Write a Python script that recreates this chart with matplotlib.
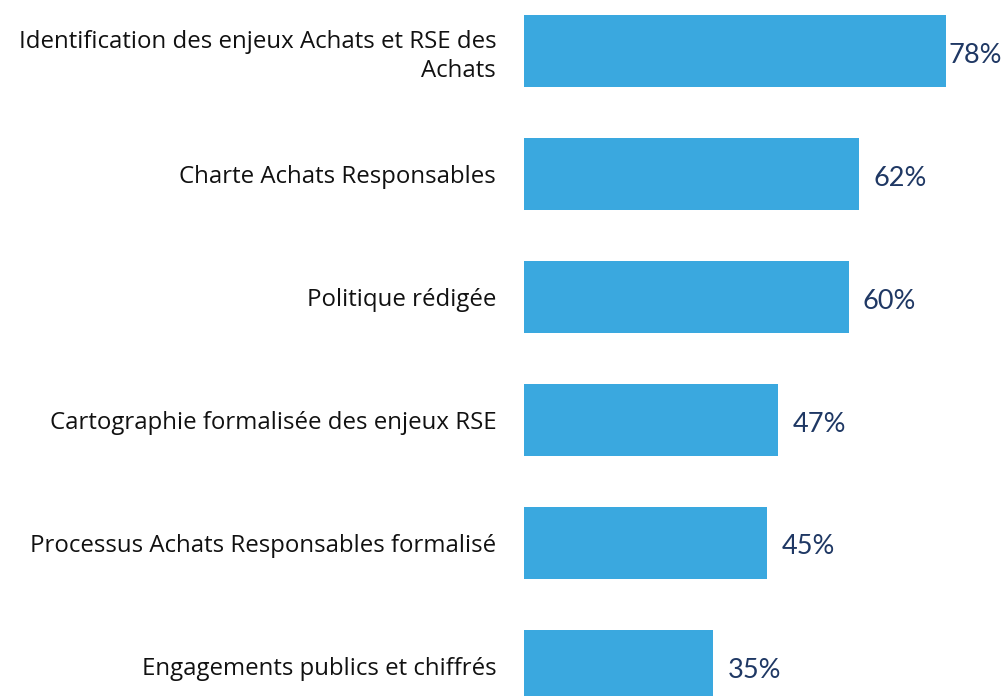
import matplotlib
matplotlib.use("Agg")
import matplotlib.pyplot as plt
import numpy as np

# --- Data ---
categories = [
    "Identification des enjeux Achats et RSE des\nAchats",
    "Charte Achats Responsables",
    "Politique rédigée",
    "Cartographie formalisée des enjeux RSE",
    "Processus Achats Responsables formalisé",
    "Engagements publics et chiffrés",
]
values = [78, 62, 60, 47, 45, 35]

BAR_COLOR = "#3AA8DF"
VALUE_COLOR = "#1F3864"

W, H = 1007, 696
fig = plt.figure(figsize=(W / 100, H / 100), dpi=100)

# axes placed in pixel terms so the bars line up with the reference
ax = fig.add_axes([524 / W, -31.5 / H, 476 / W, 738 / H])

y = np.arange(len(categories))
ax.barh(y, values, height=0.585, color=BAR_COLOR)
ax.set_xlim(0, 88)
ax.set_ylim(len(categories) - 0.5, -0.5)

ax.set_yticks(y)
ax.set_yticklabels(categories, fontsize=17.3, family="Open Sans",
                   color="#111111", linespacing=1.3)
ax.tick_params(axis="y", length=0, pad=20)
ax.set_xticks([])
for s in ax.spines.values():
    s.set_visible(False)

# value labels
for yi, v in zip(y, values):
    off = 3 if v == max(values) else 14
    ax.annotate(f"{v}%", xy=(v, yi), xytext=(off, -4), textcoords="offset pixels",
                ha="left", va="center", fontsize=19.5, color=VALUE_COLOR,
                family="Lato")

fig.savefig("out.png", dpi=100)
